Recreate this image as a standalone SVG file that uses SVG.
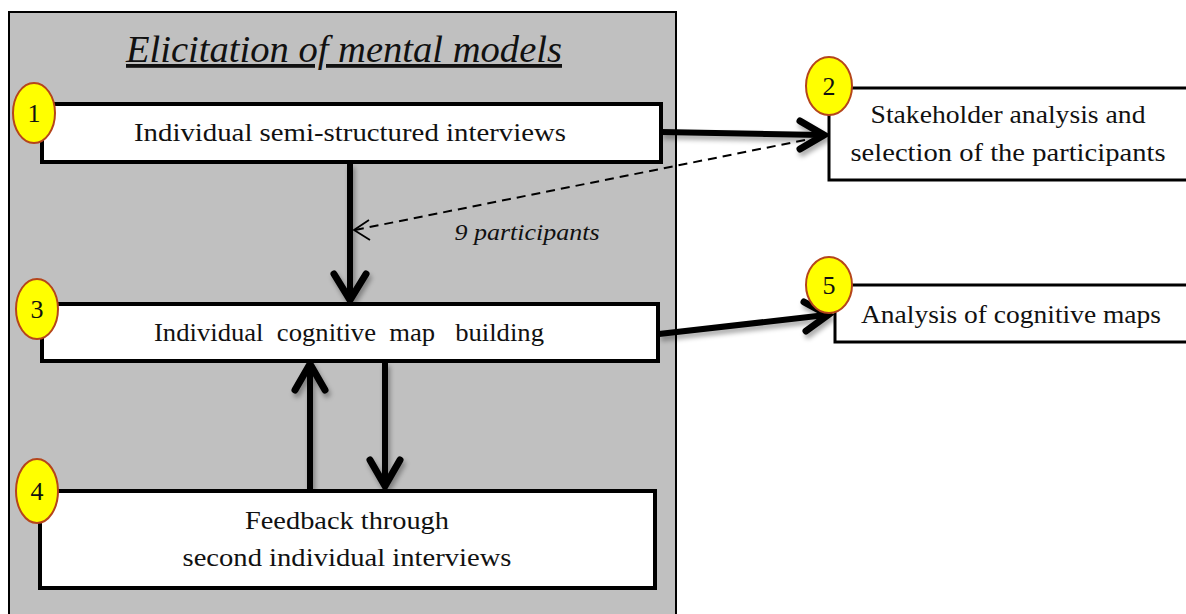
<svg xmlns="http://www.w3.org/2000/svg" width="1186" height="614" viewBox="0 0 1186 614">
<defs>
<style>
.box{fill:#ffffff;stroke:#000;stroke-width:4}
.box2{fill:#ffffff;stroke:#000;stroke-width:3}
.num{fill:#ffff00;stroke:#b5451b;stroke-width:2}
.t{font-family:"Liberation Serif","Times New Roman",serif;font-size:26px;fill:#111;text-anchor:middle}
.n{font-family:"Liberation Serif","Times New Roman",serif;font-size:26px;fill:#111;text-anchor:middle}
.thick{fill:none;stroke:#000;stroke-width:6;stroke-linecap:butt}
.head{fill:none;stroke:#000;stroke-width:7;stroke-linecap:round;stroke-linejoin:miter}
.dash{fill:none;stroke:#000;stroke-width:2;stroke-dasharray:9 6}
</style>
<filter id="sh" x="-20%" y="-50%" width="140%" height="200%">
<feGaussianBlur in="SourceAlpha" stdDeviation="2.5"/>
<feOffset dx="2" dy="4" result="b"/>
<feComponentTransfer><feFuncA type="linear" slope="0.35"/></feComponentTransfer>
<feMerge><feMergeNode/><feMergeNode in="SourceGraphic"/></feMerge>
</filter>
</defs>
<rect x="0" y="0" width="1186" height="614" fill="#ffffff"/>
<g id="panel">
<rect x="9" y="12" width="667" height="620" fill="#c0c0c0" stroke="#000" stroke-width="2"/>
<text x="344" y="62" font-family="'Liberation Serif','Times New Roman',serif" font-style="italic" font-size="38" fill="#111" text-anchor="middle" text-decoration="underline" textLength="436" lengthAdjust="spacingAndGlyphs">Elicitation of mental models</text>
</g>
<g id="connectors">
<g filter="url(#sh)">
<path class="thick" d="M661 132 L822 135"/>
<path class="head" d="M800 121 L824 135 L800 149"/>
<path class="thick" d="M659 334 L826 315"/>
<path class="head" d="M804 302 L828 315 L806 331"/>
<path class="thick" d="M350 163 L350 298"/>
<path class="head" d="M334 274 L350 300 L366 274"/>
<path class="thick" d="M310 490 L310 366"/>
<path class="head" d="M295 390 L310 364 L325 390"/>
<path class="thick" d="M385 362 L385 486"/>
<path class="head" d="M370 460 L385 486 L400 460"/>
</g>
<path class="dash" d="M805 140 L355 230"/>
<path d="M369 220 L354 230 L370 240" fill="none" stroke="#000" stroke-width="1.8"/>
<text x="527" y="240" font-family="'Liberation Serif','Times New Roman',serif" font-style="italic" font-size="24" fill="#111" text-anchor="middle" textLength="145" lengthAdjust="spacingAndGlyphs">9 participants</text>
</g>
<g id="node1">
<rect class="box" x="42" y="104" width="619" height="58"/>
<ellipse class="num" cx="34" cy="113" rx="21" ry="30"/>
<text class="n" x="34" y="122">1</text>
<text class="t" x="350" y="141" textLength="432" lengthAdjust="spacingAndGlyphs">Individual  semi-structured interviews</text>
</g>
<g id="node2">
<rect class="box2" x="829" y="88" width="370" height="92"/>
<ellipse class="num" cx="829" cy="86" rx="23" ry="29"/>
<text class="n" x="829" y="95">2</text>
<text class="t" x="1008" y="123" textLength="275" lengthAdjust="spacingAndGlyphs">Stakeholder analysis and</text>
<text class="t" x="1008" y="161" textLength="315" lengthAdjust="spacingAndGlyphs">selection of the participants</text>
</g>
<g id="node3">
<rect class="box" x="42" y="304" width="616" height="57"/>
<ellipse class="num" cx="37" cy="309" rx="21" ry="30"/>
<text class="n" x="37" y="318">3</text>
<text class="t" x="349" y="341" xml:space="preserve" textLength="390" lengthAdjust="spacingAndGlyphs">Individual  cognitive  map   building</text>
</g>
<g id="node4">
<rect class="box" x="40" y="491" width="615" height="97"/>
<ellipse class="num" cx="37" cy="491" rx="21" ry="32"/>
<text class="n" x="37" y="500">4</text>
<text class="t" x="347" y="529" textLength="204" lengthAdjust="spacingAndGlyphs">Feedback through</text>
<text class="t" x="347" y="566" textLength="329" lengthAdjust="spacingAndGlyphs">second individual interviews</text>
</g>
<g id="node5">
<rect class="box2" x="835" y="285" width="360" height="57"/>
<ellipse class="num" cx="829" cy="285" rx="23" ry="28"/>
<text class="n" x="829" y="294">5</text>
<text class="t" x="1011" y="323" textLength="300" lengthAdjust="spacingAndGlyphs">Analysis of cognitive maps</text>
</g>
</svg>
